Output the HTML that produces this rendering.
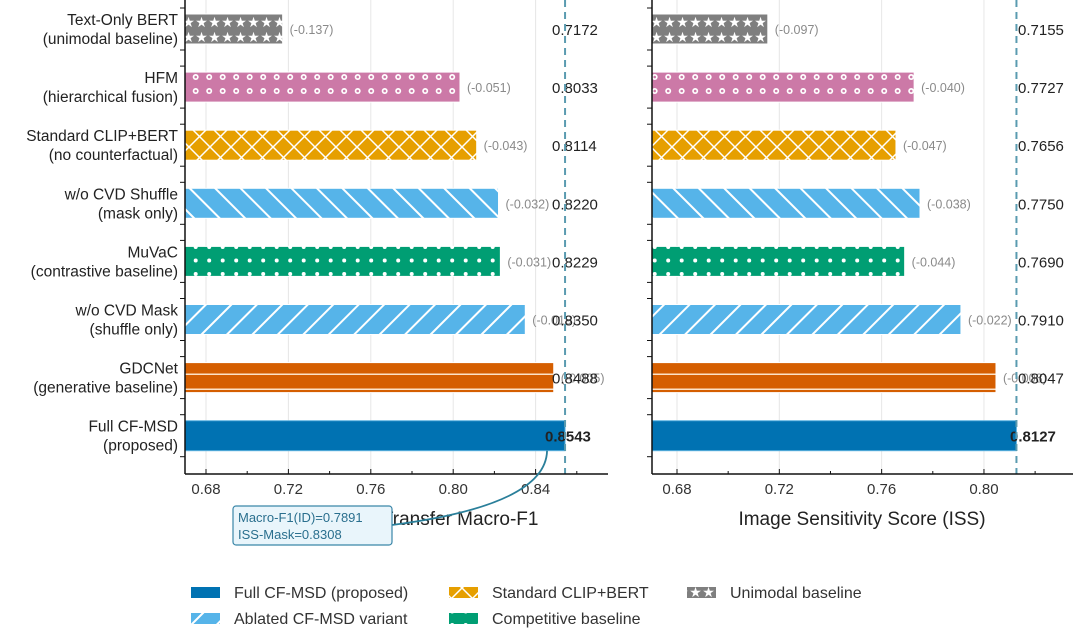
<!DOCTYPE html>
<html><head><meta charset="utf-8">
<style>
html,body{margin:0;padding:0;background:#fff;}
svg{display:block;font-family:"Liberation Sans",sans-serif;}
</style></head>
<body>
<svg id="chart" width="1080" height="638" viewBox="0 0 1080 638">
<defs>
  <pattern id="p-stars" patternUnits="userSpaceOnUse" width="13" height="15">
    <rect width="13" height="15" fill="#7f7f7f"/>
    <text x="6.5" y="12" font-size="14" fill="#fff" text-anchor="middle">★</text>
  </pattern>
  <pattern id="p-rings" patternUnits="userSpaceOnUse" width="13.5" height="14">
    <rect width="13.5" height="14" fill="#cc79a7"/>
    <circle cx="6.7" cy="7" r="3" fill="#fff"/><circle cx="6.7" cy="7" r="1.3" fill="#cc79a7"/>
  </pattern>
  <pattern id="p-cross" patternUnits="userSpaceOnUse" width="21" height="21">
    <rect width="21" height="21" fill="#e69f00"/>
    <path d="M0 0L21 21M21 0L0 21" stroke="#fff" stroke-width="1.5"/>
  </pattern>
  <pattern id="p-back" patternUnits="userSpaceOnUse" width="18" height="18" patternTransform="rotate(-45)">
    <rect width="18" height="18" fill="#56b4e9"/><rect width="2" height="18" fill="#fff"/>
  </pattern>
  <pattern id="p-fwd" patternUnits="userSpaceOnUse" width="18" height="18" patternTransform="rotate(45)">
    <rect width="18" height="18" fill="#56b4e9"/><rect width="2" height="18" fill="#fff"/>
  </pattern>
  <pattern id="p-dots" patternUnits="userSpaceOnUse" width="13.5" height="13.5">
    <rect width="13.5" height="13.5" fill="#009e73"/><circle cx="6.7" cy="4" r="2" fill="#fff"/>
  </pattern>
  <pattern id="p-hline" patternUnits="userSpaceOnUse" width="10" height="15">
    <rect width="10" height="15" fill="#d55e00"/><rect y="13.5" width="10" height="1.8" fill="#fde2c6"/>
  </pattern>
</defs>
<g id="plot"></g>
<g id="legend"></g>
</svg>
<script>
const categories = ["Text-Only BERT|(unimodal baseline)","HFM|(hierarchical fusion)","Standard CLIP+BERT|(no counterfactual)","w/o CVD Shuffle|(mask only)","MuVaC|(contrastive baseline)","w/o CVD Mask|(shuffle only)","GDCNet|(generative baseline)","Full CF-MSD|(proposed)"];
const f1Values = [0.7172,0.8033,0.8114,0.8220,0.8229,0.8350,0.8488,0.8543];
const f1Deltas = ["(-0.137)","(-0.051)","(-0.043)","(-0.032)","(-0.031)","(-0.019)","(-0.005)",""];
const issValues = [0.7155,0.7727,0.7656,0.7750,0.7690,0.7910,0.8047,0.8127];
const issDeltas = ["(-0.097)","(-0.040)","(-0.047)","(-0.038)","(-0.044)","(-0.022)","(-0.008)",""];
const tickValues = [0.68,0.72,0.76,0.80,0.84];
const tickLabels = ["0.68","0.72","0.76","0.80","0.84"];
const rightTickValues = [0.68,0.72,0.76,0.80];
const rightTickLabels = ["0.68","0.72","0.76","0.80"];
const fills = ["url(#p-stars)","url(#p-rings)","url(#p-cross)","url(#p-back)","url(#p-dots)","url(#p-fwd)","url(#p-hline)","#0072b2"];
const NS="http://www.w3.org/2000/svg";
const plot=document.getElementById('plot');
function mk(tag,attrs,parent,text){const e=document.createElementNS(NS,tag);for(const k in attrs)e.setAttribute(k,attrs[k]);if(text!==undefined)e.textContent=text;(parent||plot).appendChild(e);return e;}
const yRow=i=>29+i*58.1;
const barH=30, axisBottom=474;
function panel(cfg){
  const x=v=>cfg.x0+(v-cfg.v0)*cfg.scale;
  const g=mk('g',{});
  
  
  cfg.ticks.forEach(t=>{const l=mk('line',{x1:x(t),x2:x(t),y1:0,y2:axisBottom,stroke:'#e6e6e6','stroke-width':1},g);
    });
  cfg.values.forEach((v,i)=>{
    const yc=yRow(i);
    const r=mk('rect',{x:cfg.left,y:yc-barH/2,width:Math.max(0,x(v)-cfg.left),height:barH,fill:fills[i],stroke:i===7?'#5fb3e0':'#fff','stroke-width':1},g);
    
    
    if(cfg.deltas[i]){const d=mk('text',{x:x(v)+7,y:yc+5,'font-size':12.5,fill:'#8a8a8a'},g,cfg.deltas[i]);
      }
    const lab=mk('text',{x:i===7?cfg.boldX:cfg.valX,y:yc+6,'font-size':15,fill:'#222','font-weight':i===7?'bold':'normal'},g,v.toFixed(4));
    
  });
  const best=cfg.values[7];
  const dl=mk('line',{x1:x(best),x2:x(best),y1:0,y2:axisBottom,stroke:'#5a9bb0','stroke-width':2,'stroke-dasharray':'7,5'},g);
  
  mk('line',{x1:cfg.left,x2:cfg.left,y1:0,y2:axisBottom,stroke:'#111','stroke-width':1.5},g);
  mk('line',{x1:cfg.left,x2:cfg.right,y1:axisBottom,y2:axisBottom,stroke:'#111','stroke-width':1.5},g);
  categories.forEach((c,i)=>{const yc=yRow(i);mk('line',{x1:cfg.left-5,x2:cfg.left,y1:yc-barH/2-6,y2:yc-barH/2-6,stroke:'#111'},g);mk('line',{x1:cfg.left-5,x2:cfg.left,y1:yc+barH/2+6,y2:yc+barH/2+6,stroke:'#111'},g);});
  cfg.ticks.forEach((t,k)=>{
    mk('line',{x1:x(t),x2:x(t),y1:axisBottom,y2:axisBottom-5,stroke:'#111'},g);
    mk('line',{x1:x(t+0.02),x2:x(t+0.02),y1:axisBottom,y2:axisBottom-3,stroke:'#111'},g);
    const tl=mk('text',{x:x(t),y:axisBottom+20,'font-size':15,fill:'#333','text-anchor':'middle'},g,cfg.tickLabels[k]);
    
  });
  const at=mk('text',{x:cfg.titleX,y:525,'font-size':19,fill:'#222','text-anchor':'middle'},g,cfg.title);
  
  return x;
}
const xl=panel({name:'f1-panel',x0:206,v0:0.68,scale:2060,left:185,right:608,values:f1Values,deltas:f1Deltas,ticks:tickValues,tickLabels:tickLabels,valX:552,boldX:545,title:'Cross-Domain Transfer Macro-F1',titleX:397});
const xr=panel({name:'iss-panel',x0:677,v0:0.68,scale:2558,left:652,right:1073,values:issValues,deltas:issDeltas,ticks:rightTickValues,tickLabels:rightTickLabels,valX:1018,boldX:1010,title:'Image Sensitivity Score (ISS)',titleX:862});
categories.forEach((c,i)=>{
  const [a,b]=c.split('|');const yc=yRow(i);
  const t=mk('text',{x:178,y:yc-4,'font-size':15.5,fill:'#222','text-anchor':'end'});
  
  
  mk('tspan',{x:178,dy:0},t,a);mk('tspan',{x:178,dy:19},t,b);
});
const ann=mk('g',{});


mk('path',{d:`M392 525 Q ${xl(0.845)} 505 ${xl(f1Values[7])-18} ${yRow(7)+15}`,fill:'none',stroke:'#2a7f9a','stroke-width':1.8},ann);
mk('rect',{x:233,y:506,width:159,height:39,rx:3,fill:'#e9f5fb',stroke:'#3a86a8','stroke-width':1.2},ann);
mk('text',{x:238,y:522,'font-size':13,fill:'#2a6f8e'},ann,'Macro-F1(ID)=0.7891');
mk('text',{x:238,y:539,'font-size':13,fill:'#2a6f8e'},ann,'ISS-Mask=0.8308');
const lg=document.getElementById('legend');
const legendItems=[["#0072b2","Full CF-MSD (proposed)",191,593],["url(#p-fwd)","Ablated CF-MSD variant",191,619],["url(#p-cross)","Standard CLIP+BERT",449,593],["url(#p-dots)","Competitive baseline",449,619],["url(#p-stars)","Unimodal baseline",687,593]];
legendItems.forEach(it=>{
  const g=mk('g',{},lg);
  
  
  mk('rect',{x:it[2],y:it[3]-6,width:29,height:11,fill:it[0]},g);
  mk('text',{x:it[2]+43,y:it[3]+5,'font-size':16,fill:'#333'},g,it[1]);
});
</script>
</body></html>
